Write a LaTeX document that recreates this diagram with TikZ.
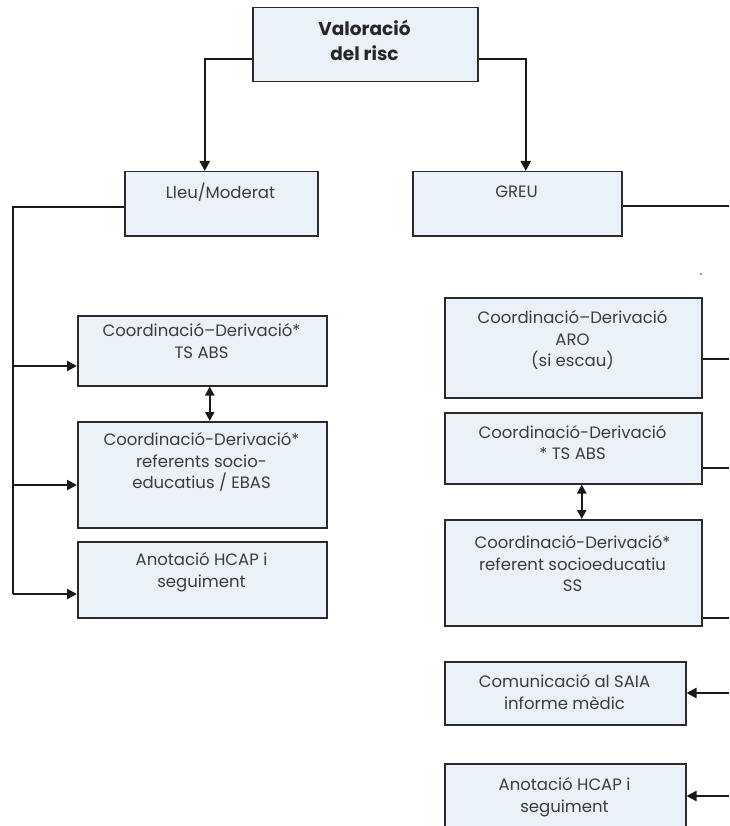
\documentclass[tikz,border=0pt]{standalone}
\usepackage{fontspec}
\setmainfont{Poppins}
\usetikzlibrary{arrows.meta}
\definecolor{boxfill}{HTML}{EAF1F8}
\definecolor{boxline}{HTML}{2B2B2B}
\definecolor{txtcol}{HTML}{3C3C3C}
\tikzset{
  box/.style={draw=boxline, fill=boxfill, line width=1.5pt, inner sep=0pt, rectangle, anchor=north west},
  txt/.style={anchor=north, inner sep=0pt, align=center, text=txtcol, font={\fontsize{16.5}{21.5}\selectfont}},
  ttl/.style={anchor=north, inner sep=0pt, align=center, text=black!85, font={\fontsize{18.5}{25}\selectfont\bfseries}},
  conn/.style={draw=black!90, line width=1.8pt},
  arr/.style={draw=black!90, line width=2.3pt, -{Triangle[length=10pt,width=10pt]}},
  dbl/.style={draw=black!90, line width=2.3pt, {Triangle[length=9pt,width=9pt]}-{Triangle[length=9pt,width=9pt]}}
}
\begin{document}
\begin{tikzpicture}[x=1pt,y=-1pt]
\useasboundingbox (0,0) rectangle (729,826);
\clip (0,0) rectangle (729,826);
% boxes
\node[box, minimum width=225pt, minimum height=74pt] (V) at (252,7) {};
\node[box, minimum width=193pt, minimum height=64pt] (Lleu) at (124,171) {};
\node[box, minimum width=209pt, minimum height=64pt] (Greu) at (412,171) {};
\node[box, minimum width=249pt, minimum height=70pt] (L1) at (77,315) {};
\node[box, minimum width=249pt, minimum height=106pt] (L2) at (77,421) {};
\node[box, minimum width=249pt, minimum height=76pt] (L3) at (77,541) {};
\node[box, minimum width=257pt, minimum height=100pt] (Aro) at (444,297) {};
\node[box, minimum width=257pt, minimum height=71pt] (Rts) at (444,412) {};
\node[box, minimum width=257pt, minimum height=106pt] (Ss) at (444,519) {};
\node[box, minimum width=241pt, minimum height=63pt] (Com) at (444,661) {};
\node[box, minimum width=241pt, minimum height=80pt] (Anot) at (444,763) {};
% texts
\node[ttl] (Vt) at (364.5,18) {\strut Valoració\\del risc};
\node[txt] (Lleut) at (220.5,182.5) {\strut Lleu/Moderat};
\node[txt] (Greut) at (516.5,182.5) {\strut GREU};
\node[txt] (L1t) at (201.5,321.5) {\strut Coordinació–Derivació*\\TS ABS};
\node[txt] (L2t) at (201.5,430.5) {\strut Coordinació-Derivació*\\referents socio-\\educatius / EBAS};
\node[txt] (L3t) at (201.5,550.5) {\strut Anotació HCAP i\\seguiment};
\node[txt] (Arot) at (572.5,308.5) {\strut Coordinació–Derivació\\ARO\\(si escau)};
\node[txt] (Rtst) at (572.5,423) {\strut Coordinació-Derivació\\* TS ABS};
\node[txt] (Sst) at (572.5,533.5) {\strut Coordinació-Derivació*\\referent socioeducatiu\\SS};
\node[txt] (Comt) at (564.5,672.5) {\strut Comunicació al SAIA\\informe mèdic};
\node[txt] (Anott) at (564.5,775.5) {\strut Anotació HCAP i\\seguiment};
% top connectors
\draw[arr] (V.west |- 0,59) -| ([xshift=-16.5pt]Lleu.north);
\draw[arr] (V.east |- 0,59) -| ([xshift=8.5pt]Greu.north);
% left trunk
\coordinate (lt) at (13,207);
\coordinate (lb) at (13,594);
\coordinate (a1) at (13,366);
\coordinate (a2) at (13,485);
\draw[conn] (Lleu.west |- lt) -- (lt) -- (lb);
\draw[arr] (a1) -- (L1.west |- a1);
\draw[arr] (a2) -- (L2.west |- a2);
\draw[arr] (lb) -- (L3.west |- lb);
% double arrows
\draw[dbl] ([xshift=7.5pt]L1.south) -- ([xshift=7.5pt]L2.north);
\draw[dbl] ([xshift=8.5pt]Rts.south) -- ([xshift=8.5pt]Ss.north);
% right side lines
\coordinate (r1) at (729,206);
\coordinate (r2) at (729,359);
\coordinate (r3) at (729,468);
\coordinate (r4) at (729,618);
\coordinate (r5) at (729,693);
\coordinate (r6) at (729,796);
\draw[conn] (Greu.east |- r1) -- (r1);
\draw[conn] (Aro.east |- r2) -- (r2);
\draw[conn] (Rts.east |- r3) -- (r3);
\draw[conn] (Ss.east |- r4) -- (r4);
\draw[arr] (r5) -- (Com.east |- r5);
\draw[arr] (r6) -- (Anot.east |- r6);
% stray dot
\fill[black!80] (701,274) circle (0.9pt);
\end{tikzpicture}
\end{document}
